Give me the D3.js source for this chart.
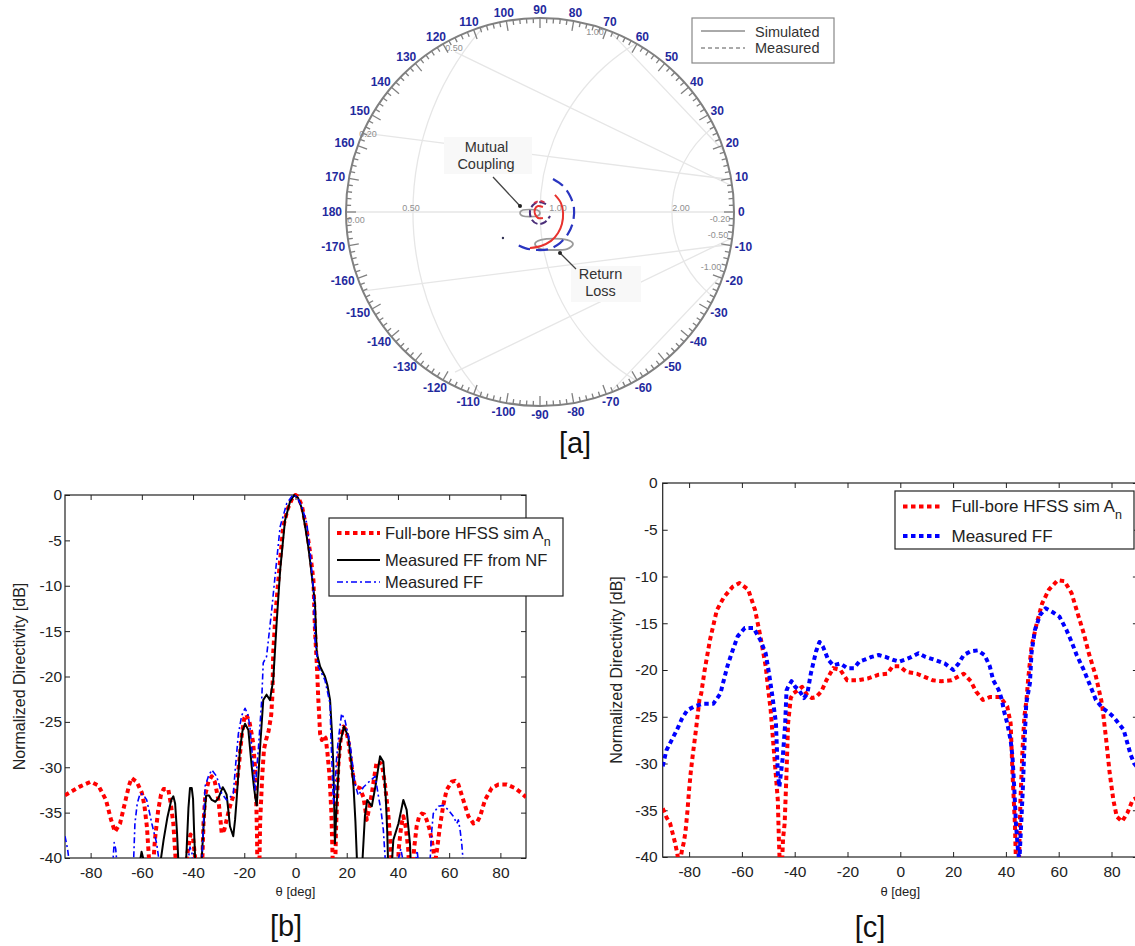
<!DOCTYPE html>
<html><head><meta charset="utf-8">
<script src="https://cdn.jsdelivr.net/npm/d3@7"></script>
<style>
body{margin:0;background:#fff}
svg{display:block}
text{font-family:"Liberation Sans",Arial,Helvetica,sans-serif}
</style></head>
<body><svg id="fig" width="1135" height="946"></svg>
<script>
// ---------------- DATA ----------------
const xTicks = [-80,-60,-40,-20,0,20,40,60,80];
const yTicks = [0,-5,-10,-15,-20,-25,-30,-35,-40];
const smithAngles = [-170,-160,-150,-140,-130,-120,-110,-100,-90,-80,-70,-60,-50,-40,-30,-20,-10,0,10,20,30,40,50,60,70,80,90,100,110,120,130,140,150,160,170,180];

// panel [b]: [theta deg, dB]
const bSimHFSS = [[-90,-33.1],[-87,-32.6],[-84,-32.1],[-80,-31.6],[-77,-32.0],[-74,-33.6],[-72,-35.8],[-70.5,-37.1],[-68.5,-36.2],[-66.5,-33.8],[-65,-32.0],[-64,-31.2],[-62,-31.6],[-60,-32.8],[-59,-34.2],[-58,-36.6],[-57,-41],[-56.3,-44],[-55.6,-41],[-54.9,-38.0],[-53.6,-34.7],[-52.5,-33.0],[-51.5,-32.4],[-49.7,-32.4],[-48.7,-34],[-47.7,-36.2],[-46.6,-41],[-45.8,-44],[-43.5,-44],[-42.2,-39.5],[-41,-37.4],[-40,-37.8],[-39,-40.5],[-38.2,-44],[-36.8,-44],[-35.9,-36],[-35.2,-33],[-34,-31.6],[-32.7,-31.0],[-31.5,-31.6],[-30.1,-33.6],[-29.3,-35.8],[-28.8,-37.3],[-27.8,-36.9],[-26.9,-35.8],[-25.6,-34.3],[-24.3,-33.2],[-23,-32],[-22,-29.5],[-21,-26.5],[-20,-24.6],[-19.2,-24.2],[-18,-25],[-17,-26.5],[-16.5,-27.4],[-15.8,-30],[-15.3,-34],[-15,-38],[-14.8,-44],[-14.3,-44],[-13.8,-36],[-13,-31],[-12.3,-28],[-11.5,-27],[-10.5,-26],[-9.5,-24.3],[-9,-22],[-8.7,-17.4],[-7.8,-13],[-6.7,-9.4],[-5.8,-6.5],[-4.8,-3.5],[-3,-1.5],[-1,-0.2],[0,0],[1,-0.2],[2.5,-1.2],[4.4,-3.9],[5.8,-6.5],[7,-9.4],[7.6,-14.9],[8.3,-18.5],[8.6,-20.4],[8.9,-22.5],[9.2,-24],[9.6,-26.3],[10.3,-27],[11,-26.5],[11.8,-26.8],[12.5,-28.5],[13.3,-31],[14,-35],[14.5,-40],[14.8,-44],[15.3,-44],[15.8,-37],[16.7,-29.9],[17.6,-27],[18.7,-25.5],[19.7,-25.9],[20.6,-27],[21.9,-29.9],[23.2,-32.1],[25.2,-32.3],[26.5,-33.3],[27.1,-34.3],[27.8,-35.8],[28.8,-34.5],[29.8,-32.9],[30.8,-31],[31.7,-29.4],[33.7,-29.6],[34.9,-31.8],[36.2,-35.1],[37,-38],[37.6,-41],[38.3,-44],[39.5,-44],[40.3,-39],[41.3,-36.4],[42.1,-35.4],[43,-36.5],[44,-39],[44.7,-43],[45.5,-43],[46.3,-39],[47.3,-36.5],[48.3,-35.4],[49.3,-35.1],[50.3,-35.2],[51.2,-35.8],[52.3,-36.8],[53.2,-38],[54,-39.5],[54.5,-40.5],[55.3,-39],[56.4,-36.5],[57.7,-34.2],[59,-32.5],[61,-31.6],[62.3,-31.5],[63.6,-31.9],[65.5,-33.6],[67.5,-35.4],[69.5,-36.2],[71,-36],[72.1,-35.4],[74,-33.6],[76.6,-32.3],[79.2,-31.9],[82.5,-31.9],[85.7,-32.3],[88,-32.8],[90,-33.3]];
const bMeasNF = [[-62,-44],[-60.8,-40.5],[-60.1,-39.3],[-59.5,-40],[-58.8,-44],[-54,-44],[-53,-41],[-51.5,-38],[-50,-35.5],[-48.5,-33.6],[-47.7,-33.2],[-47,-34],[-46.3,-37],[-45.8,-40],[-45.3,-44],[-43.3,-44],[-42.5,-39],[-41.8,-34.5],[-41.2,-32.3],[-40.5,-32.3],[-40,-33.5],[-39.6,-37],[-39.2,-40],[-38.8,-44],[-37.2,-44],[-36.6,-40],[-35.8,-36],[-34.9,-33.1],[-33.8,-33.1],[-32.7,-33.6],[-31.3,-33.8],[-30.1,-33.4],[-29,-32.6],[-28.4,-32.2],[-27.6,-32.6],[-26.9,-33],[-26.2,-34.8],[-25.6,-36.5],[-24.3,-37.6],[-23.6,-35.8],[-23,-33.6],[-21.7,-28.1],[-20.7,-26],[-19.7,-25.2],[-18.4,-25.9],[-17.1,-29.9],[-16.3,-32],[-15.6,-33.5],[-15.1,-34.2],[-14.5,-31],[-13.9,-28.1],[-12.6,-22.6],[-11.3,-22.0],[-10,-22.6],[-8.7,-20.4],[-7.3,-13.8],[-6,-8.3],[-4.1,-2.8],[-2.1,-0.7],[-0.5,0],[1,-0.3],[2.5,-1.5],[3.8,-3.5],[5,-5.7],[6.3,-8.7],[7.6,-11.9],[8.3,-17.4],[9.6,-18.9],[11.5,-20],[12.5,-21],[13.5,-22.6],[14.2,-26],[14.8,-29.9],[15.4,-38.4],[16.1,-34],[17.4,-27.4],[18.9,-25.5],[20.6,-26.6],[21.6,-29],[22.6,-31.8],[23.4,-36],[24.1,-41],[24.5,-44],[25.8,-44],[26.2,-40],[27.1,-35.4],[28,-33.6],[29.8,-34.3],[31.4,-31.8],[33,-28.8],[34.3,-29.4],[35.3,-33.6],[35.8,-37],[36.2,-41],[36.7,-44],[37.3,-42],[38.2,-38],[40.2,-36.2],[42.1,-33.6],[43.4,-34.7],[44.7,-38.4],[45.2,-42],[45.7,-44],[50,-44]];
const bMeasFF = [[-90,-37.6],[-89,-39],[-88.1,-41],[-87.5,-44],[-72,-44],[-71.2,-40],[-70.8,-38.3],[-70.2,-39],[-69.6,-41],[-69,-44],[-64,-44],[-63.3,-41],[-62.7,-36.2],[-61.8,-34],[-60.7,-32.9],[-59.5,-33],[-58.1,-33.6],[-57,-35],[-56.1,-36.2],[-54.2,-38.4],[-53.2,-40.5],[-52.5,-44],[-43,-44],[-42,-40.5],[-41.2,-38.8],[-40.4,-39.5],[-39.7,-42],[-38.5,-44],[-37,-44],[-36.2,-38],[-35.3,-32.1],[-34,-31],[-32.7,-30.3],[-30.8,-31],[-28.8,-32.9],[-26.9,-33.6],[-25.5,-33.3],[-24.3,-32.9],[-23.3,-29.5],[-22.3,-26.3],[-21,-24.3],[-19.7,-23.5],[-18.6,-24.2],[-17.8,-25.5],[-16.5,-29.9],[-15.8,-32.5],[-14.5,-28],[-13.2,-22.6],[-12.6,-18.5],[-11.3,-17.8],[-9.3,-12.7],[-8,-9],[-6,-3.5],[-3.4,-0.9],[-1,0],[0.5,-0.2],[2.5,-1.3],[4.4,-3.1],[5.8,-6.5],[7,-10.5],[7.6,-16],[8.9,-18.9],[11.5,-20.4],[13.5,-23],[13.8,-26.3],[14.3,-30],[14.8,-34],[15.3,-33],[15.9,-29.5],[16.7,-27],[18,-24.1],[19.3,-24.8],[21.3,-27.4],[23.2,-31.8],[24.5,-33.1],[26.5,-32.2],[29.1,-31.5],[31.1,-31],[32.4,-33.2],[33.5,-35],[34.3,-36.9],[35,-40],[35.5,-44],[39.5,-44],[40.3,-40],[41.1,-39],[41.8,-40],[42.5,-44],[46.3,-44],[47.1,-40],[47.5,-39.2],[48,-40.5],[48.5,-44],[51.8,-44],[52.5,-40.5],[53.2,-37],[53.8,-35.1],[55.8,-34.3],[57.7,-34.2],[59.7,-34.7],[61.6,-35.4],[63,-36.2],[63.6,-35.8],[64.3,-37],[64.9,-38.4],[65.5,-40.5],[66,-44],[70,-44]];

// panel [c]
const cSimHFSS = [[-90,-34.8],[-88.5,-35.8],[-87.2,-36.4],[-86.2,-37.5],[-85.3,-38.5],[-84.5,-39.6],[-84,-40.5],[-83.3,-40.2],[-82.7,-39.3],[-81.9,-38.3],[-81.3,-37.1],[-80.6,-35],[-80,-32.8],[-79.4,-31],[-78.7,-29.3],[-77.4,-26.4],[-76.1,-23.2],[-75.4,-22.5],[-74.1,-20],[-72.1,-16.8],[-69.5,-13.6],[-66.8,-12.2],[-63.5,-11.1],[-60.9,-10.7],[-57.6,-11.4],[-55,-13.6],[-53,-16.4],[-51,-19.6],[-49.7,-22.9],[-49.1,-24.3],[-47.7,-29.3],[-46.4,-33.9],[-46,-38],[-45.5,-42],[-45,-42],[-44.4,-38],[-43.8,-36.4],[-43.1,-31.0],[-42.5,-25.7],[-41.5,-23],[-40.5,-22.5],[-38.5,-22.1],[-37.2,-21.8],[-35.2,-22.7],[-33.5,-23],[-31.9,-22.9],[-29.9,-22.3],[-28,-21.1],[-25.4,-19.8],[-22.7,-20],[-20.1,-21.1],[-16.1,-21.1],[-12.2,-20.9],[-8.2,-20.5],[-4.9,-20.4],[-2.9,-19.6],[-0.3,-19.6],[2.3,-20.2],[6.3,-20.4],[8.9,-20.7],[12.2,-21.1],[15.5,-21.2],[19.4,-21.1],[22,-20.7],[24,-20.4],[26.7,-21.2],[28.7,-22.3],[31.3,-23.2],[33.9,-22.9],[37.9,-22.9],[40.5,-23.9],[41.8,-25.7],[42.5,-31],[43.4,-36.4],[43.8,-40.5],[44.3,-44],[45,-40],[45.5,-34],[46.3,-28.5],[47,-25],[47.8,-23.2],[48.4,-21.1],[49.7,-17.5],[51.7,-15],[53.7,-12.9],[56.3,-11.4],[59.6,-10.4],[62.2,-10.5],[64.9,-11.8],[66.8,-13.6],[69.5,-16.1],[71.4,-18.2],[74.1,-20.7],[76.1,-23.2],[76.7,-24.3],[78,-27.5],[79.3,-31],[80.7,-33.9],[82,-35.7],[84,-36.2],[86,-35.3],[88,-33.9],[90,-33.6]];
const cMeasFF = [[-90,-30.3],[-88.6,-28.6],[-86.6,-27.5],[-84.6,-26.4],[-82.7,-25.2],[-80.7,-24.3],[-78,-23.9],[-74.7,-23.6],[-70.8,-23.6],[-68.1,-22.5],[-67.5,-21.8],[-65.5,-19.6],[-63.5,-17.9],[-61.6,-16.4],[-58.9,-15.5],[-55.6,-15.5],[-53,-16.8],[-51,-18.2],[-49.7,-20.4],[-48.4,-22.9],[-47.1,-25.7],[-46.4,-31],[-45.8,-32.5],[-45.2,-31],[-44.5,-29.3],[-43.6,-25.7],[-43.1,-22.2],[-42.5,-21.8],[-41.2,-21.2],[-39.8,-21.8],[-38.5,-22.1],[-36.5,-23.0],[-35.2,-22.5],[-33.9,-20.4],[-31.9,-18.0],[-30.6,-17.0],[-29.3,-17.5],[-27.3,-18.9],[-25.4,-19.5],[-22.7,-19.3],[-20.1,-19.8],[-17.5,-19.8],[-15.5,-19.1],[-13.5,-18.9],[-10.9,-18.6],[-8.2,-18.4],[-5.6,-18.6],[-2.9,-18.9],[-0.3,-19.1],[1.7,-18.9],[4.3,-18.6],[6.9,-18.2],[9.6,-18.6],[12.9,-18.9],[16.8,-19.3],[20.1,-20.0],[22.1,-19.3],[24,-18.4],[26.7,-18.0],[29.3,-17.9],[31.9,-18.4],[33.9,-19.6],[35.2,-21.1],[37.2,-22.1],[38.5,-23.2],[39.2,-24.3],[40.5,-25.7],[41.8,-27.5],[42.5,-29.3],[43.2,-32.8],[43.8,-36.4],[44.5,-39],[45.1,-40.5],[45.8,-36.4],[46.4,-32.8],[47.1,-27.5],[47.7,-23.6],[49.1,-21.4],[49.7,-18.2],[51,-15.7],[53,-14.1],[55,-13.4],[57.6,-13.8],[60.3,-14.3],[62.9,-15.7],[64.9,-17],[66.8,-18.4],[69.5,-20],[72.1,-21.8],[74.1,-23.2],[76.7,-24.1],[78.7,-24.5],[80.7,-25],[82.7,-25.7],[84.6,-26.4],[86,-27.8],[87.3,-29.1],[88.6,-30],[90,-30.5]];

// panel [a]: reflection coefficient points [Re, Im]
const smithSimReturn = [[0.077,0.088],[0.108,0.046],[0.119,-0.005],[0.113,-0.062],[0.093,-0.108],[0.057,-0.149],[0.005,-0.175],[-0.052,-0.186]];
const smithMeasReturn = [[0.067,0.170],[0.119,0.134],[0.155,0.082],[0.175,0.021],[0.170,-0.052],[0.144,-0.113],[0.103,-0.160],[0.046,-0.191],[-0.015,-0.196],[-0.077,-0.186],[-0.134,-0.160]];
const smithSimMutual = [[0.015,0.026],[-0.010,0.031],[-0.026,0.015],[-0.026,-0.010],[-0.010,-0.031],[0.015,-0.031]];
const smithSimMutualUpper = [[-0.031,0.046],[0.0,0.057],[0.031,0.046]];
const smithMeasMutual = [[0.031,0.041],[-0.005,0.052],[-0.036,0.036],[-0.052,0.0],[-0.041,-0.041],[-0.010,-0.062],[0.026,-0.052],[0.052,-0.021]];
const smithLoopCoupling = [[0,-0.005],[-0.015,-0.021],[-0.052,-0.024],[-0.088,-0.021],[-0.103,-0.005],[-0.088,0.010],[-0.052,0.013],[-0.015,0.010]];
const smithLoopReturn = [[0.170,-0.165],[0.139,-0.191],[0.072,-0.196],[0.005,-0.191],[-0.026,-0.165],[0.005,-0.144],[0.072,-0.137],[0.139,-0.144]];

// ---------------- DRAW ----------------
const svg = d3.select("#fig");
const fmt = d => String(d);

function panel(cfg){
  const x = d3.scaleLinear().domain([-90,90]).range([cfg.l,cfg.r]);
  const y = d3.scaleLinear().domain([-40,0]).range([cfg.b,cfg.t]);
  const g = svg.append("g");
  const clipId = "clip"+cfg.id;
  svg.append("clipPath").attr("id",clipId).append("rect")
    .attr("x",cfg.l).attr("y",cfg.t-4).attr("width",cfg.r-cfg.l).attr("height",cfg.b-cfg.t+4);

  const styleAxis = sel => {
    sel.select(".domain").remove();
    sel.selectAll(".tick line").attr("stroke","#222").attr("stroke-width",1);
    sel.selectAll("text").attr("font-size",15.5).attr("fill","#222")
       .attr("font-family",'"Liberation Sans",Arial,sans-serif');
  };
  g.append("g").attr("transform",`translate(0,${cfg.b})`)
    .call(d3.axisBottom(x).tickValues(xTicks).tickSize(-5).tickSizeOuter(0).tickPadding(9).tickFormat(fmt)).call(styleAxis);
  g.append("g").attr("transform",`translate(0,${cfg.t})`)
    .call(d3.axisTop(x).tickValues(xTicks).tickSize(-5).tickSizeOuter(0).tickFormat("")).call(styleAxis);
  g.append("g").attr("transform",`translate(${cfg.l},0)`)
    .call(d3.axisLeft(y).tickValues(yTicks).tickSize(-5).tickSizeOuter(0).tickPadding(cfg.yPad).tickFormat(fmt)).call(styleAxis);
  g.append("g").attr("transform",`translate(${cfg.r},0)`)
    .call(d3.axisRight(y).tickValues(yTicks).tickSize(-5).tickSizeOuter(0).tickFormat("")).call(styleAxis);
  g.append("rect").attr("x",cfg.l).attr("y",cfg.t).attr("width",cfg.r-cfg.l).attr("height",cfg.b-cfg.t)
    .attr("fill","none").attr("stroke","#222").attr("stroke-width",1.2);

  g.append("text").attr("transform",`translate(${cfg.ylx},${(cfg.t+cfg.b)/2}) rotate(-90)`)
    .attr("text-anchor","middle").attr("font-size",16).attr("fill","#222").text("Normalized Directivity [dB]");
  g.append("text").attr("x",(cfg.l+cfg.r)/2).attr("y",896).attr("text-anchor","middle")
    .attr("font-size",13).attr("fill","#222").text("θ [deg]");

  const line = d3.line().x(d=>x(d[0])).y(d=>y(d[1]));
  const lg = g.append("g").attr("clip-path",`url(#${clipId})`);
  cfg.series.forEach(s=>{
    lg.append("path").datum(s.data).attr("d",line).attr("fill","none")
      .attr("stroke",s.color).attr("stroke-width",s.w).attr("stroke-dasharray",s.dash||null)
      .attr("stroke-linejoin","round");
  });

  const L = cfg.legend;
  g.append("rect").attr("x",L.x0).attr("y",L.y0).attr("width",L.x1-L.x0).attr("height",L.y1-L.y0)
    .attr("fill","#fff").attr("stroke","#222").attr("stroke-width",1.2);
  cfg.series.forEach((s,i)=>{
    g.append("line").attr("x1",L.sx0).attr("x2",L.sx1).attr("y1",L.ly[i]).attr("y2",L.ly[i])
      .attr("stroke",s.color).attr("stroke-width",s.w).attr("stroke-dasharray",s.dash||null);
    const t = g.append("text").attr("x",L.tx).attr("y",L.ty[i]).attr("font-size",L.fs).attr("fill","#222").text(s.name);
    if(s.sub) t.append("tspan").attr("font-size",12.5).attr("dy",7).text(s.sub);
  });
}

panel({id:"b", l:65, r:526, t:495, b:858, yPad:3, ylx:25,
  series:[
    {name:"Full-bore HFSS sim A", sub:"n", data:bSimHFSS, color:"#ff0000", w:4, dash:"4.5,3.5"},
    {name:"Measured FF from NF", data:bMeasNF, color:"#000", w:2},
    {name:"Measured FF", data:bMeasFF, color:"#0000ff", w:1.6, dash:"6,3,2,3"}
  ],
  legend:{x0:329,x1:563,y0:518,y1:596,sx0:337,sx1:380,tx:385,fs:16.5,ly:[533,560,582],ty:[538.5,566,588]}
});
panel({id:"c", l:662.7, r:1137.9, t:483, b:857, yPad:5, ylx:622,
  series:[
    {name:"Full-bore HFSS sim A", sub:"n", data:cSimHFSS, color:"#ff0000", w:4, dash:"4.5,3.5"},
    {name:"Measured FF", data:cMeasFF, color:"#0000ff", w:4, dash:"4.5,3.5"}
  ],
  legend:{x0:895,x1:1134,y0:491,y1:549,sx0:903,sx1:943,tx:951.5,fs:17,ly:[506.5,536],ty:[511.5,542]}
});

// ---------------- SMITH CHART [a] ----------------
const cx = 540, cy = 212, R = 194;
const gx = d3.scaleLinear().domain([-1,1]).range([cx-R,cx+R]);
const gy = d3.scaleLinear().domain([-1,1]).range([cy+R,cy-R]);
const sg = svg.append("g");
sg.append("clipPath").attr("id","smithClip").append("circle").attr("cx",cx).attr("cy",cy).attr("r",R);
const grid = sg.append("g").attr("clip-path","url(#smithClip)").attr("stroke","#e6e6e6")
  .attr("stroke-width",1.3).attr("fill","none");
grid.append("line").attr("x1",gx(-1)).attr("x2",gx(1)).attr("y1",gy(0)).attr("y2",gy(0));
[[0.778,1.433],[1.01,1.01],[1.237,0.557]].forEach(([c,r])=>{
  grid.append("circle").attr("cx",gx(c)).attr("cy",gy(0)).attr("r",r*R);
});
[[[-0.995,0.418],[1.0,0.165]],[[-0.438,0.825],[1.0,0.129]],[[0.345,0.948],[1.0,0.258]]].forEach(([p,q])=>{
  grid.append("line").attr("x1",gx(p[0])).attr("y1",gy(p[1])).attr("x2",gx(q[0])).attr("y2",gy(q[1]));
  grid.append("line").attr("x1",gx(p[0])).attr("y1",gy(-p[1])).attr("x2",gx(q[0])).attr("y2",gy(-q[1]));
});
[["0.20",-0.887,0.405],["0.50",-0.443,0.845],["1.00",0.284,0.928],["0.50",-0.665,0.02],["1.00",0.093,0.02],
 ["2.00",0.727,0.02],["-0.20",0.928,-0.036],["-0.50",0.918,-0.118],["-1.00",0.881,-0.283],["0.00",-0.948,-0.04]]
 .forEach(([t,a,b])=>{
  sg.append("text").attr("x",gx(a)).attr("y",gy(b)).attr("font-size",9).attr("fill","#8f8f8f")
    .attr("text-anchor","middle").attr("dy","0.35em").text(t);
});
sg.append("circle").attr("cx",cx).attr("cy",cy).attr("r",R).attr("fill","none")
  .attr("stroke","#808080").attr("stroke-width",2);
const tickAngles = d3.range(0,360,2);
sg.selectAll(".stk").data(tickAngles).enter().append("line")
  .attr("x1",a=>cx+R*Math.cos(a*Math.PI/180)).attr("y1",a=>cy-R*Math.sin(a*Math.PI/180))
  .attr("x2",a=>cx+(R-(a%10===0?10:5))*Math.cos(a*Math.PI/180))
  .attr("y2",a=>cy-(R-(a%10===0?10:5))*Math.sin(a*Math.PI/180))
  .attr("stroke","#808080").attr("stroke-width",1.3);
smithAngles.forEach(a=>{
  const rad = a*Math.PI/180;
  const px = cx+198*Math.cos(rad), py = cy-198*Math.sin(rad);
  const t = sg.append("text").text(a).attr("font-size",12).attr("font-weight","bold")
    .attr("fill","#1f2a9e").attr("text-anchor","middle");
  const w = t.node().getComputedTextLength();
  t.attr("x",px+Math.cos(rad)*w/2).attr("y",py-Math.sin(rad)*4.5+4.2);
});

const sl = d3.line().x(d=>gx(d[0])).y(d=>gy(d[1])).curve(d3.curveCardinal);
const slc = d3.line().x(d=>gx(d[0])).y(d=>gy(d[1])).curve(d3.curveCardinalClosed);
sg.append("path").datum(smithLoopReturn).attr("d",slc).attr("fill","none").attr("stroke","#9a9a9a").attr("stroke-width",1.8);
sg.append("path").datum(smithLoopCoupling).attr("d",slc).attr("fill","none").attr("stroke","#9a9a9a").attr("stroke-width",1.6);
sg.append("path").datum(smithMeasReturn).attr("d",sl).attr("fill","none").attr("stroke","#2a35c0").attr("stroke-width",2.2).attr("stroke-dasharray","12,6");
sg.append("path").datum(smithSimReturn).attr("d",sl).attr("fill","none").attr("stroke","#e8322e").attr("stroke-width",2);
sg.append("path").datum(smithMeasMutual).attr("d",sl).attr("fill","none").attr("stroke","#4a2d78").attr("stroke-width",2).attr("stroke-dasharray","7,3");
sg.append("path").datum(smithSimMutual).attr("d",sl).attr("fill","none").attr("stroke","#e8322e").attr("stroke-width",2);
sg.append("path").datum(smithSimMutualUpper).attr("d",sl).attr("fill","none").attr("stroke","#d0304a").attr("stroke-width",1.8).attr("stroke-dasharray","4,3");
sg.append("circle").attr("cx",gx(-0.191)).attr("cy",gy(-0.134)).attr("r",1.2).attr("fill","#335");

sg.append("rect").attr("x",444).attr("y",137).attr("width",88).attr("height",37).attr("fill","#f8f8f8");
sg.append("rect").attr("x",571).attr("y",266).attr("width",70).attr("height",36).attr("fill","#f8f8f8");
sg.append("text").attr("x",486.5).attr("y",152).attr("text-anchor","middle").attr("font-size",14.5).attr("fill","#333").text("Mutual");
sg.append("text").attr("x",486).attr("y",169).attr("text-anchor","middle").attr("font-size",14.5).attr("fill","#333").text("Coupling");
sg.append("text").attr("x",600.5).attr("y",279).attr("text-anchor","middle").attr("font-size",14.5).attr("fill","#333").text("Return");
sg.append("text").attr("x",600.5).attr("y",296).attr("text-anchor","middle").attr("font-size",14.5).attr("fill","#333").text("Loss");
sg.append("line").attr("x1",493).attr("y1",177).attr("x2",520).attr("y2",206).attr("stroke","#444").attr("stroke-width",1.3);
sg.append("circle").attr("cx",520).attr("cy",206).attr("r",2).attr("fill","#222");
sg.append("line").attr("x1",560).attr("y1",253).attr("x2",576).attr("y2",269).attr("stroke","#444").attr("stroke-width",1.3);
sg.append("circle").attr("cx",560).attr("cy",253).attr("r",2).attr("fill","#222");

sg.append("rect").attr("x",692).attr("y",18).attr("width",142).attr("height",45).attr("fill","#fff").attr("stroke","#888").attr("stroke-width",1.2);
sg.append("line").attr("x1",701).attr("x2",745).attr("y1",31).attr("y2",31).attr("stroke","#555").attr("stroke-width",1);
sg.append("line").attr("x1",701).attr("x2",745).attr("y1",48).attr("y2",48).attr("stroke","#555").attr("stroke-width",1).attr("stroke-dasharray","4,3");
sg.append("text").attr("x",755).attr("y",36.5).attr("font-size",14.5).attr("fill","#333").text("Simulated");
sg.append("text").attr("x",755).attr("y",53).attr("font-size",14.5).attr("fill","#333").text("Measured");

[["[a]",575,453],["[b]",286,936],["[c]",870,937]].forEach(([t,x,y])=>{
  svg.append("text").attr("x",x).attr("y",y).attr("text-anchor","middle")
    .attr("font-family",'"Liberation Serif","Times New Roman",serif').attr("font-size",29).attr("fill","#111").text(t);
});
</script>
</body></html>
